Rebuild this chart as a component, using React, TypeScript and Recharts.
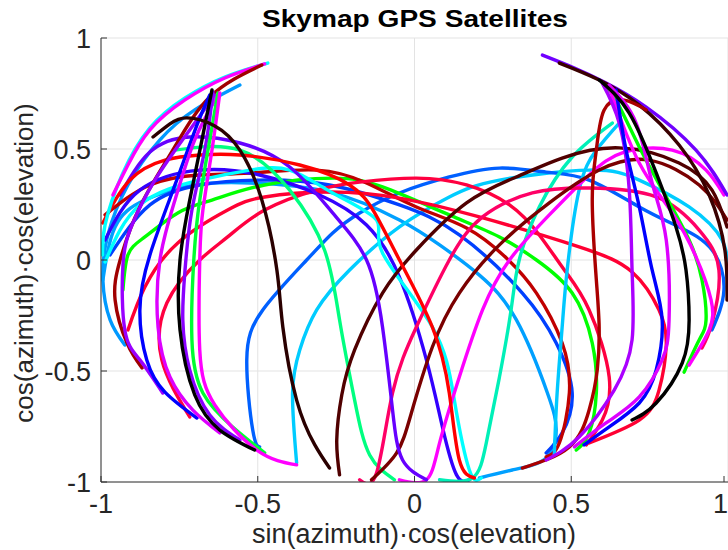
import React from "react";
import { LineChart, Line, XAxis, YAxis, CartesianGrid } from "recharts";

// satellite tracks, [sin(az)cos(el), cos(az)cos(el)]
const trackL1 = [[-0.468, 0.887], [-0.605, 0.824], [-0.732, 0.73], [-0.844, 0.595], [-0.933, 0.383], [-0.987, 0.158], [-0.995, 0.023]];
const trackL2 = [[-0.478, 0.883], [-0.605, 0.82], [-0.732, 0.721], [-0.844, 0.586], [-0.914, 0.428], [-0.962, 0.293]];
const trackL3 = [[-0.487, 0.878], [-0.653, 0.734], [-0.771, 0.495], [-0.876, 0.239], [-0.939, 0], [-0.955, -0.18], [-0.917, -0.374], [-0.869, -0.486]];
const trackL4 = [[-0.646, 0.766], [-0.678, 0.541], [-0.717, 0.27], [-0.748, 0], [-0.748, -0.315], [-0.701, -0.608], [-0.621, -0.766], [-0.51, -0.856]];
const trackL5 = [[-0.653, 0.743], [-0.694, 0.608], [-0.764, 0.338], [-0.844, 0.023], [-0.876, -0.225], [-0.854, -0.45], [-0.796, -0.595], [-0.694, -0.712]];
const trackL6 = [[-0.637, 0.743], [-0.717, 0.586], [-0.828, 0.36], [-0.901, 0.158], [-0.93, -0.023], [-0.924, -0.315], [-0.876, -0.45], [-0.803, -0.599]];
const trackL7 = [[-0.627, 0.743], [-0.701, 0.541], [-0.764, 0.27], [-0.812, 0], [-0.818, -0.302], [-0.78, -0.527], [-0.707, -0.676], [-0.621, -0.779]];
const trackL8 = [[-0.643, 0.757], [-0.669, 0.495], [-0.71, 0.225], [-0.732, -0.045], [-0.739, -0.27], [-0.717, -0.495], [-0.653, -0.698], [-0.557, -0.811]];
const trackL9 = [[-0.627, 0.752], [-0.653, 0.541], [-0.685, 0.27], [-0.704, 0], [-0.71, -0.36], [-0.675, -0.599], [-0.58, -0.752], [-0.478, -0.869]];
const trackL10 = [[-0.621, 0.752], [-0.646, 0.495], [-0.675, 0.225], [-0.685, 0], [-0.685, -0.405], [-0.637, -0.653], [-0.503, -0.856], [-0.376, -0.923]];
const trackL11 = [[-0.834, 0.554], [-0.78, 0.613], [-0.726, 0.64], [-0.637, 0.604], [-0.557, 0.495], [-0.487, 0.27], [-0.439, -0.045], [-0.42, -0.302], [-0.376, -0.631], [-0.318, -0.833], [-0.271, -0.937]];
const trackL12 = [[-0.557, 0.788], [-0.701, 0.676], [-0.812, 0.541], [-0.914, 0.338], [-0.978, 0.113], [-0.994, -0.09], [-0.971, -0.27], [-0.924, -0.383]];
const trackV = [[-0.939, 0.293], [-0.844, 0.486], [-0.717, 0.554], [-0.557, 0.527], [-0.398, 0.419], [-0.261, 0.212], [-0.153, 0], [-0.102, -0.302], [-0.07, -0.676], [-0.038, -0.901], [0.038, -0.99]];
const trackB = [[-0.987, 0.09], [-0.876, 0.315], [-0.685, 0.405], [-0.494, 0.383], [-0.303, 0.293], [-0.153, 0.158], [-0.048, -0.077], [0.038, -0.45], [0.089, -0.752], [0.134, -0.968], [0.175, -0.99]];
const trackD = [[-0.994, 0.167], [-0.908, 0.36], [-0.796, 0.45], [-0.685, 0.473], [-0.557, 0.473], [-0.366, 0.428], [-0.207, 0.338], [-0.127, 0.212], [-0.048, 0], [0.057, -0.302], [0.111, -0.599], [0.143, -0.901], [0.191, -0.982]];
const trackCyan = [[-0.987, -0.009], [-0.876, 0.248], [-0.685, 0.36], [-0.525, 0.405], [-0.398, 0.405], [-0.261, 0.302], [-0.121, 0.18], [-0.102, 0.032], [0.057, -0.302], [0.127, -0.631], [0.175, -0.946], [0.213, -0.982]];
const trackGreenU = [[-0.764, 0.495], [-0.557, 0.495], [-0.398, 0.315], [-0.287, 0.045], [-0.239, -0.27], [-0.191, -0.631], [-0.143, -0.878], [-0.064, -0.99]];
const trackTurq = [[0.08, -0.99], [0.185, -0.982], [0.229, -0.824], [0.271, -0.527], [0.308, -0.225], [0.334, 0], [0.398, 0.239], [0.503, 0.464], [0.631, 0.617]];
const trackMagRise = [[-0.048, -0.99], [0.038, -0.99], [0.08, -0.824], [0.143, -0.527], [0.217, -0.225], [0.303, 0], [0.43, 0.203], [0.557, 0.383], [0.669, 0.486], [0.822, 0.495], [0.93, 0.405], [0.987, 0.293]];
const trackAzure = [[-0.994, -0.09], [-0.955, 0.149], [-0.86, 0.27], [-0.701, 0.338], [-0.525, 0.347], [-0.271, 0.306], [-0.048, 0.18], [0.08, 0.068], [0.207, -0.068], [0.325, -0.27], [0.424, -0.599], [0.452, -0.766], [0.42, -0.892], [0.312, -0.946], [0.207, -0.982]];
const trackDeepSky = [[0.446, -0.878], [0.455, -0.599], [0.471, -0.302], [0.487, -0.045], [0.525, 0.315], [0.58, 0.495], [0.653, 0.617]];
const trackCrimsonU = [[-0.175, -0.99], [-0.121, -0.959], [-0.07, -0.599], [0.006, -0.302], [0.111, 0], [0.217, 0.194], [0.376, 0.302], [0.557, 0.324], [0.771, 0.284], [0.908, 0.135], [0.971, -0.045], [0.949, -0.284], [0.917, -0.396]];
const trackMaroonU = [[-0.137, -0.99], [-0.057, -0.869], [-0.01, -0.689], [0.057, -0.392], [0.143, -0.149], [0.271, 0.068], [0.43, 0.257], [0.589, 0.405], [0.748, 0.45], [0.908, 0.338], [0.997, 0.18]];
const trackBrownU = [[-0.239, -0.968], [-0.248, -0.811], [-0.232, -0.608], [-0.191, -0.405], [-0.102, -0.149], [0.006, 0.045], [0.166, 0.257], [0.325, 0.374], [0.471, 0.459], [0.653, 0.505], [0.844, 0.437], [0.949, 0.315], [0.997, 0.149]];
const trackR1 = [[0.589, 0.811], [0.685, 0.662], [0.771, 0.392], [0.834, 0.149], [0.866, -0.045], [0.876, -0.27], [0.854, -0.464], [0.771, -0.644], [0.694, -0.721]];
const trackR2 = [[0.643, 0.766], [0.675, 0.495], [0.717, 0.239], [0.758, -0.045], [0.79, -0.27], [0.771, -0.495], [0.717, -0.644], [0.621, -0.752], [0.541, -0.833]];
const trackR3 = [[0.599, 0.797], [0.653, 0.617], [0.685, 0.315], [0.694, -0.045], [0.694, -0.36], [0.637, -0.586], [0.525, -0.797], [0.42, -0.901]];
const trackR4 = [[0.621, 0.788], [0.707, 0.617], [0.758, 0.347], [0.803, 0.09], [0.812, -0.27], [0.79, -0.45], [0.717, -0.617], [0.611, -0.734], [0.51, -0.842]];
const trackR5 = [[-0.914, -0.315], [-0.86, -0.122], [-0.755, 0.077], [-0.596, 0.225], [-0.478, 0.284], [-0.271, 0.306], [-0.048, 0.279], [0.207, 0.194], [0.525, 0.059], [0.694, -0.054], [0.78, -0.225], [0.803, -0.383], [0.78, -0.586], [0.717, -0.721], [0.557, -0.824]];
const trackR6 = [[0.605, 0.788], [0.643, 0.72], [0.717, 0.509], [0.803, 0.284], [0.876, 0.09], [0.917, -0.09], [0.93, -0.27], [0.908, -0.36], [0.86, -0.505]];
const trackR7 = [[0.624, 0.766], [0.717, 0.437], [0.822, 0.212], [0.898, 0.014], [0.946, -0.18], [0.94, -0.315], [0.876, -0.473]];
const trackR8 = [[0.408, 0.923], [0.51, 0.865], [0.605, 0.802], [0.739, 0.689], [0.898, 0.495], [0.997, 0.293]];
const trackR9 = [[0.462, 0.887], [0.589, 0.811], [0.717, 0.698], [0.844, 0.518], [0.94, 0.293], [0.99, 0.045], [0.997, -0.18]];
const trackR10 = [[0.739, 0.676], [0.669, 0.72], [0.605, 0.676], [0.58, 0.495], [0.567, 0.27], [0.58, -0.09], [0.589, -0.302], [0.583, -0.495], [0.557, -0.676], [0.494, -0.842], [0.344, -0.937]];
const trackR11 = [[-0.987, 0.203], [-0.844, 0.338], [-0.685, 0.383], [-0.525, 0.392], [-0.312, 0.405], [-0.153, 0.347], [0.006, 0.239], [0.166, 0.144], [0.293, 0.009], [0.389, -0.149], [0.471, -0.374], [0.494, -0.599], [0.462, -0.824], [0.42, -0.887]];
const trackB2 = [[-0.971, 0.023], [-0.844, 0.248], [-0.685, 0.338], [-0.494, 0.36], [-0.271, 0.338], [-0.048, 0.248], [0.143, 0.113], [0.344, -0.149], [0.452, -0.374], [0.503, -0.599], [0.471, -0.779], [0.42, -0.869]];
const trackG2 = [[-0.93, -0.135], [-0.914, 0.023], [-0.86, 0.104], [-0.755, 0.212], [-0.646, 0.27], [-0.478, 0.338], [-0.261, 0.369], [-0.102, 0.329], [0.111, 0.203], [0.271, 0.104], [0.389, 0], [0.503, -0.149], [0.567, -0.374], [0.58, -0.599], [0.557, -0.779], [0.516, -0.856]];
const trackP2 = [[-0.717, -0.707], [-0.806, -0.45], [-0.79, -0.194], [-0.685, 0], [-0.596, 0.104], [-0.478, 0.225], [-0.312, 0.315], [-0.175, 0.351], [0.006, 0.369], [0.166, 0.338], [0.303, 0.248], [0.398, 0.113], [0.478, -0.045], [0.557, -0.225], [0.621, -0.527], [0.599, -0.721], [0.548, -0.833]];
const trackC1 = [[-0.494, -0.842], [-0.516, -0.766], [-0.535, -0.45], [-0.484, -0.225], [-0.344, 0], [-0.261, 0.122], [-0.175, 0.212], [-0.048, 0.302], [0.111, 0.374], [0.271, 0.414], [0.42, 0.396], [0.557, 0.36], [0.717, 0.239], [0.844, 0.149], [0.949, 0.045], [0.987, -0.135], [0.949, -0.315]];
const trackC2 = [[-0.376, -0.914], [-0.389, -0.599], [-0.366, -0.405], [-0.312, -0.225], [-0.207, -0.045], [-0.048, 0.149], [0.111, 0.284], [0.271, 0.36], [0.557, 0.405], [0.717, 0.36], [0.876, 0.239], [0.981, 0.09], [0.997, -0.045]];

const tracks = [
  { name: "L12", color: "#0099ff", pts: trackL12 },
  { name: "Azure", color: "#00a0ff", pts: trackAzure },
  { name: "C2", color: "#00ccff", pts: trackC2 },
  { name: "C1", color: "#0060ff", pts: trackC1 },
  { name: "B2", color: "#0040ff", pts: trackB2 },
  { name: "G2", color: "#00ff00", pts: trackG2 },
  { name: "R11", color: "#c00000", pts: trackR11 },
  { name: "R5", color: "#ff0033", pts: trackR5 },
  { name: "P2", color: "#ff0040", pts: trackP2 },
  { name: "B", color: "#3300ff", pts: trackB },
  { name: "Cyan", color: "#00ffff", pts: trackCyan },
  { name: "GreenU", color: "#00ff80", pts: trackGreenU },
  { name: "Turq", color: "#00f0b8", pts: trackTurq },
  { name: "DeepSky", color: "#00c8ff", pts: trackDeepSky },
  { name: "MagRise", color: "#ff00ff", pts: trackMagRise },
  { name: "CrimsonU", color: "#ff0066", pts: trackCrimsonU },
  { name: "MaroonU", color: "#7a0000", pts: trackMaroonU },
  { name: "BrownU", color: "#500000", pts: trackBrownU },
  { name: "V", color: "#6600ff", pts: trackV },
  { name: "D", color: "#ff0000", pts: trackD },
  { name: "L1", color: "#00ffff", pts: trackL1 },
  { name: "L2", color: "#ff00ff", pts: trackL2 },
  { name: "L3", color: "#a00000", pts: trackL3 },
  { name: "L6", color: "#9900ff", pts: trackL6 },
  { name: "L5", color: "#0000ff", pts: trackL5 },
  { name: "L7", color: "#dd00ff", pts: trackL7 },
  { name: "L8", color: "#8800ff", pts: trackL8 },
  { name: "L9", color: "#00ff33", pts: trackL9 },
  { name: "L10", color: "#ff00ff", pts: trackL10 },
  { name: "L4", color: "#000000", pts: trackL4 },
  { name: "L11", color: "#2a0000", pts: trackL11 },
  { name: "R8", color: "#7000ff", pts: trackR8 },
  { name: "R9", color: "#3a0000", pts: trackR9 },
  { name: "R10", color: "#aa0000", pts: trackR10 },
  { name: "R6", color: "#00ff00", pts: trackR6 },
  { name: "R7", color: "#ff00ff", pts: trackR7 },
  { name: "R3", color: "#aa00ff", pts: trackR3 },
  { name: "R2", color: "#0000ff", pts: trackR2 },
  { name: "R4", color: "#dd00ff", pts: trackR4 },
  { name: "R1", color: "#000000", pts: trackR1 },
];

const tickValues = [-1, -0.5, 0, 0.5, 1];
const tickLabels = ["-1", "-0.5", "0", "0.5", "1"];

const FONT = '"Liberation Sans", Arial, Helvetica, sans-serif';
const PLOT_LEFT = 101;
const PLOT_BOTTOM = 482;
const TEXT = "#262626";

const labelFor = (v: number) => tickLabels[tickValues.indexOf(v)] ?? String(v);

const YTick = (props: any) => {
  const { y, payload } = props;
  return (
    <g>
      <line x1={PLOT_LEFT} x2={PLOT_LEFT + 6} y1={y} y2={y} stroke="#333" strokeWidth={1} />
      <text x={91} y={y} dy={10} textAnchor="end" fontSize={27} fill={TEXT} fontFamily={FONT}>
        {labelFor(payload.value)}
      </text>
    </g>
  );
};

const XTick = (props: any) => {
  const { x, payload } = props;
  const last = payload.value === 1;
  return (
    <g>
      <line x1={x} x2={x} y1={PLOT_BOTTOM} y2={PLOT_BOTTOM - 6} stroke="#333" strokeWidth={1} />
      <text
        x={last ? 728 : x}
        y={PLOT_BOTTOM + 31}
        textAnchor={last ? "end" : "middle"}
        fontSize={27}
        fill={TEXT}
        fontFamily={FONT}
      >
        {labelFor(payload.value)}
      </text>
    </g>
  );
};

export default function App() {
  return (
    <div style={{ position: "absolute", left: 0, top: 0, width: 728, height: 550, background: "#fff", fontFamily: FONT }}>
      <LineChart width={728} height={550} margin={{ top: 38, right: 0, bottom: 0, left: 0 }}>
        <CartesianGrid stroke="#e3e3e3" strokeWidth={1} />
        <XAxis
          type="number"
          dataKey="x"
          domain={[-1, 1]}
          ticks={tickValues}
          allowDataOverflow
          height={68}
          tick={<XTick />}
          tickLine={false}
          axisLine={{ stroke: "#333", strokeWidth: 1 }}
        />
        <YAxis
          type="number"
          dataKey="y"
          domain={[-1, 1]}
          ticks={tickValues}
          allowDataOverflow
          width={101}
          tick={<YTick />}
          tickLine={false}
          axisLine={{ stroke: "#333", strokeWidth: 1 }}
        />
        {tracks.map((t) => (
          <Line
            key={t.name}
            name={t.name}
            data={t.pts.map(([x, y]) => ({ x, y }))}
            dataKey="y"
            type="natural"
            stroke={t.color}
            strokeWidth={3.4}
            strokeLinecap="round"
            dot={false}
            activeDot={false}
            isAnimationActive={false}
          />
        ))}
      </LineChart>
      <svg width={728} height={550} style={{ position: "absolute", left: 0, top: 0, pointerEvents: "none" }}>
        <text
          x={415}
          y={27}
          textAnchor="middle"
          fontSize={24}
          fontWeight="bold"
          fill="#000"
          fontFamily={FONT}
          textLength={306}
          lengthAdjust="spacingAndGlyphs"
        >
          Skymap GPS Satellites
        </text>
        <text x={414} y={543} textAnchor="middle" fontSize={27} fill={TEXT} fontFamily={FONT}>
          sin(azimuth)·cos(elevation)
        </text>
        <text
          x={0}
          y={0}
          transform="translate(33,263) rotate(-90)"
          textAnchor="middle"
          fontSize={26}
          fill={TEXT}
          fontFamily={FONT}
        >
          cos(azimuth)·cos(elevation)
        </text>
      </svg>
    </div>
  );
}
